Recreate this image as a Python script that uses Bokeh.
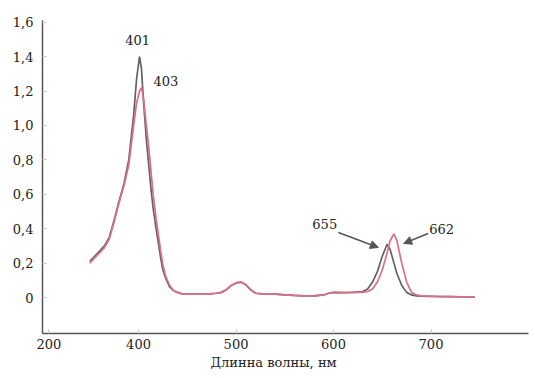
from bokeh.plotting import figure
from bokeh.models import Range1d, FixedTicker, Title, Label, Arrow, NormalHead
from bokeh.embed import file_html
from bokeh.resources import INLINE

# wavelengths, nm
wavelength = [350, 355, 360, 365, 370, 375, 380, 385, 390, 395, 398, 401, 403, 405,
              408, 410, 413, 415, 418, 420, 423, 425, 428, 432, 436, 440, 445, 450,
              460, 470, 480, 485, 490, 495, 500, 505, 510, 515, 520, 530, 540, 550,
              560, 570, 580, 590, 595, 600, 610, 620, 630, 635, 640, 645, 650, 655,
              658, 662, 665, 670, 675, 680, 685, 690, 700, 710, 720, 730, 740, 745]

# gray spectrum (peaks 401, 655)
absorb_gray = [0.21, 0.24, 0.27, 0.30, 0.35, 0.45, 0.56, 0.66, 0.80, 1.06, 1.27, 1.40, 1.33, 1.15,
               0.92, 0.80, 0.62, 0.52, 0.40, 0.33, 0.22, 0.16, 0.11, 0.06, 0.04, 0.03, 0.02, 0.02,
               0.02, 0.02, 0.025, 0.03, 0.045, 0.07, 0.085, 0.09, 0.075, 0.045, 0.025, 0.02, 0.02, 0.015,
               0.012, 0.01, 0.01, 0.015, 0.025, 0.03, 0.028, 0.03, 0.035, 0.05, 0.09, 0.15, 0.24, 0.31,
               0.28, 0.20, 0.14, 0.07, 0.03, 0.015, 0.01, 0.008, 0.006, 0.005, 0.005, 0.004, 0.003, 0.002]

# pink spectrum (peaks 403, 662)
absorb_pink = [0.20, 0.23, 0.26, 0.29, 0.34, 0.44, 0.55, 0.65, 0.77, 1.00, 1.13, 1.20, 1.22, 1.16,
               1.00, 0.90, 0.72, 0.60, 0.46, 0.38, 0.26, 0.19, 0.12, 0.07, 0.04, 0.03, 0.02, 0.02,
               0.02, 0.02, 0.025, 0.03, 0.045, 0.07, 0.085, 0.09, 0.075, 0.045, 0.025, 0.02, 0.02, 0.015,
               0.012, 0.01, 0.01, 0.015, 0.025, 0.03, 0.028, 0.03, 0.03, 0.035, 0.05, 0.09, 0.16, 0.26,
               0.33, 0.37, 0.33, 0.20, 0.09, 0.03, 0.015, 0.01, 0.008, 0.006, 0.005, 0.004, 0.003, 0.002]

x_ticks = [308, 400, 500, 600, 700]
x_tick_labels = ["200", "400", "500", "600", "700"]
y_ticks = [0, 0.2, 0.4, 0.6, 0.8, 1.0, 1.2, 1.4, 1.6]
y_tick_labels = ["0", "0,2", "0,4", "0,6", "0,8", "1,0", "1,2", "1,4", "1,6"]

peak_labels = ["401", "403", "655", "662"]
peak_label_x = [399, 428, 591, 711]
peak_label_y = [1.494, 1.26, 0.43, 0.40]

FONT = "DejaVu Serif"

p = figure(width=533, height=373, output_backend="svg", toolbar_location=None,
           x_range=Range1d(301.5, 800), y_range=Range1d(-0.209, 1.61),
           min_border_left=42, min_border_right=5, min_border_top=20, min_border_bottom=40)
p.outline_line_color = None
p.grid.visible = False
p.background_fill_color = "white"

p.line(wavelength, absorb_gray, line_color="#626262", line_width=1.7)
p.line(wavelength, absorb_pink, line_color="#dc6f86", line_width=1.7)

for ax, ticks, labels in ((p.xaxis[0], x_ticks, x_tick_labels), (p.yaxis[0], y_ticks, y_tick_labels)):
    ax.ticker = FixedTicker(ticks=ticks)
    ax.major_label_overrides = {t: l for t, l in zip(ticks, labels)}
    ax.axis_line_color = "#555555"
    ax.axis_line_width = 1.5
    ax.major_tick_in = 4
    ax.major_tick_out = 0
    ax.major_tick_line_color = "#c8c8c8"
    ax.minor_tick_line_color = None
    ax.major_label_text_font = FONT
    ax.major_label_text_font_size = "13px"
    ax.major_label_text_color = "#222222"

p.yaxis.major_label_standoff = 9
p.xaxis.major_label_standoff = 5

t = Title(text="Длинна волны, нм", align="left", offset=168, text_font=FONT,
          text_font_size="13px", text_font_style="normal", text_color="#222222", standoff=2)
p.add_layout(t, "below")

for txt, lx, ly in zip(peak_labels, peak_label_x, peak_label_y):
    p.add_layout(Label(x=lx, y=ly, text=txt, text_font=FONT, text_font_size="13px",
                       text_color="#222222", text_align="center", text_baseline="middle"))

p.add_layout(Arrow(x_start=605, y_start=0.378, x_end=646, y_end=0.291,
                   line_color="#555555", line_width=1.5,
                   end=NormalHead(size=8, fill_color="#555555", line_color="#555555")))
p.add_layout(Arrow(x_start=697, y_start=0.372, x_end=672, y_end=0.314,
                   line_color="#555555", line_width=1.5,
                   end=NormalHead(size=8, fill_color="#555555", line_color="#555555")))

open("out.html", "w").write(file_html(p, INLINE))
